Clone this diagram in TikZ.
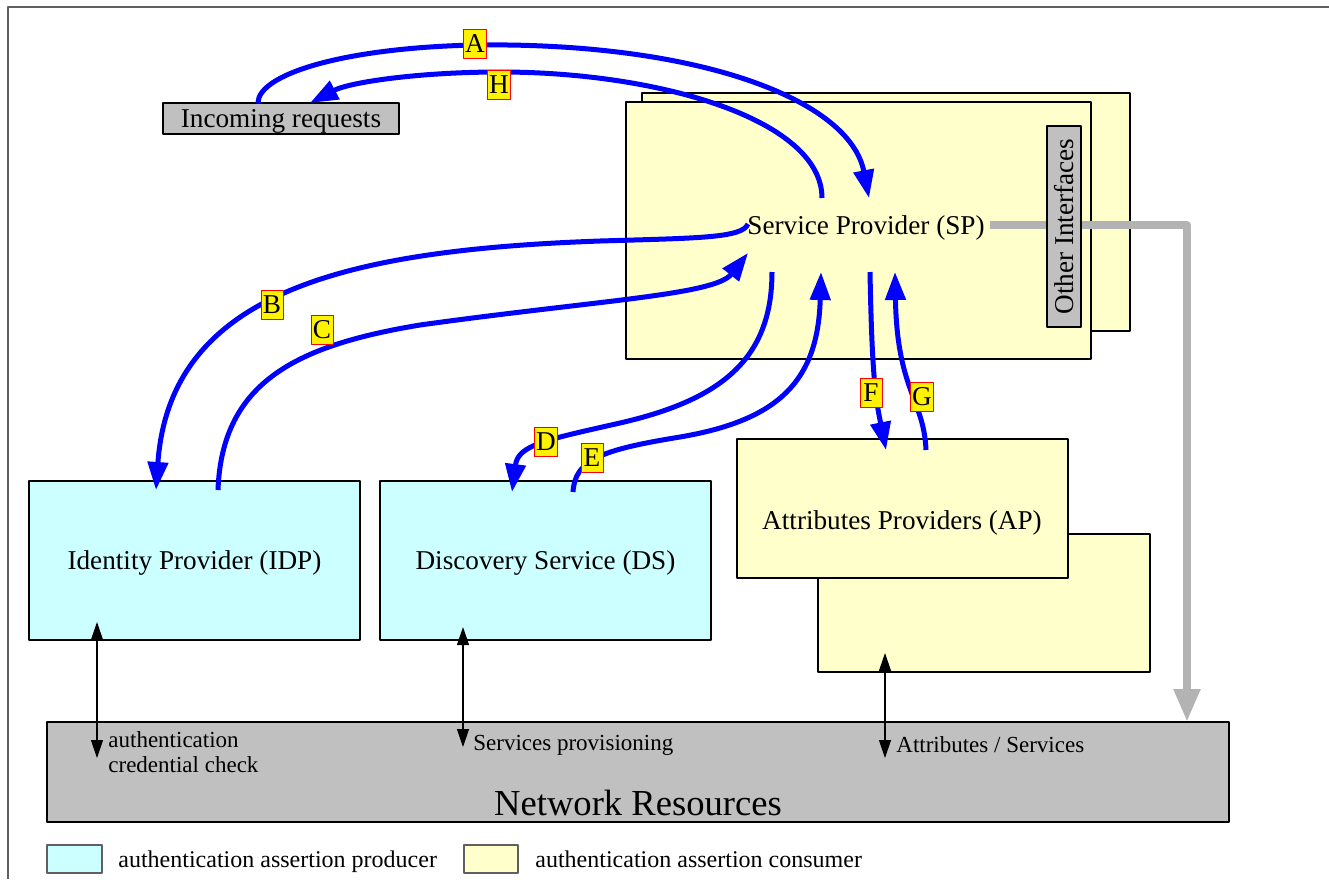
\documentclass[tikz,border=0pt]{standalone}
\usepackage{fontspec}
\setmainfont{Liberation Serif}
\usepackage{tikz}
\usetikzlibrary{arrows.meta}

\definecolor{consumer}{HTML}{FFFFCC}
\definecolor{producer}{HTML}{CCFFFF}
\definecolor{resgray}{HTML}{C0C0C0}
\definecolor{linkgray}{HTML}{B3B3B3}
\definecolor{flowblue}{HTML}{0000FF}
\definecolor{framegray}{HTML}{606060}

\newcommand{\boxfont}{\fontsize{13.6}{16}\selectfont}
\newcommand{\netfont}{\fontsize{18.3}{22}\selectfont}
\newcommand{\smallfont}{\fontsize{11.5}{12.5}\selectfont}
\newcommand{\legfont}{\fontsize{12}{14}\selectfont}

\tikzset{
  box/.style={draw=black, line width=0.6pt, inner sep=0pt, font=\boxfont, text depth=0pt},
  consumerbox/.style={box, fill=consumer},
  producerbox/.style={box, fill=producer},
  graybox/.style={box, fill=resgray},
  boxtext/.style={font=\boxfont, inner sep=0pt, text depth=0pt},
  legtext/.style={font=\legfont, anchor=west, inner sep=0pt, text depth=0pt},
  flow/.style={flowblue, line width=2.5pt, -{Triangle[length=14pt,width=10pt]}},
  tag/.style={draw=red, fill=yellow, line width=0.5pt, inner sep=0.6pt,
    minimum width=11pt, minimum height=14.5pt, font=\boxfont},
  link/.style={linkgray, line width=4pt, -{Triangle[length=16.5pt,width=12.5pt]}},
  io/.style={black, line width=0.6pt,
    {Triangle[length=9pt,width=6pt]}-{Triangle[length=9pt,width=6pt]}}
}

\begin{document}
\begin{tikzpicture}[x=0.5pt,y=-0.5pt,line join=round]
\useasboundingbox (0,0) rectangle (1329,879);
% frame
\draw[framegray, line width=0.8pt] (8,879) -- (8,7) -- (1329,7);

% boxes
\node[graybox, minimum width=118pt, minimum height=15.5pt] (inc) at (281,118.5) {Incoming requests};
\node[consumerbox, minimum width=244pt, minimum height=119pt] (spback) at (886,212) {};
\node[consumerbox, minimum width=232.5pt, minimum height=128.5pt] (sp) at (858.5,230.5) {};
\node[boxtext] (sptext) at (866,225) {Service Provider (SP)};
\node[producerbox, minimum width=165.5pt, minimum height=79.5pt] (idp) at (194.5,560.5) {Identity Provider (IDP)};
\node[producerbox, minimum width=165.5pt, minimum height=79.5pt] (ds) at (545.5,560.5) {Discovery Service (DS)};
\node[consumerbox, minimum width=166pt, minimum height=69pt] (apback) at (984,603) {};
\node[consumerbox, minimum width=165.5pt, minimum height=69.5pt] (ap) at (902.5,508.5) {};
\node[boxtext] (aptext) at (902,520) {Attributes Providers (AP)};
\node[graybox, minimum width=591pt, minimum height=50pt] (net) at (638,772) {};
\node[font=\netfont, inner sep=0pt] (nettext) at (638,803) {Network Resources};

% grey link to the network
\coordinate (netIn) at (1187,722);
\draw[link] ([xshift=2.5pt]sptext.east) -| (netIn);
\node[graybox, rotate=90, minimum width=100.5pt, minimum height=17pt] (other) at (1064,226.5) {Other Interfaces};

% access to the resources
\coordinate (ioA1) at (97,622);  \coordinate (ioA2) at (97,758);
\coordinate (ioB1) at (463,627); \coordinate (ioB2) at (463,747);
\coordinate (ioC1) at (885,653); \coordinate (ioC2) at (885,758);
\draw[io] (ioA1) -- (ioA2);
\draw[io] (ioB1) -- (ioB2);
\draw[io] (ioC1) -- (ioC2);
\node[font=\smallfont, anchor=west, align=left, inner sep=0pt] (lblA) at (108,752) {authentication\\credential check};
\node[font=\smallfont, anchor=west, inner sep=0pt] (lblB) at (473,745) {Services provisioning};
\node[font=\smallfont, anchor=west, inner sep=0pt] (lblC) at (896,745) {Attributes / Services};

% message flow
\coordinate (aS) at (258,103); \coordinate (aE) at (869,198);
\coordinate (hS) at (822,198); \coordinate (hE) at (310,103);
\coordinate (bS) at (748,224); \coordinate (bE) at (156,490);
\coordinate (cS) at (218,490); \coordinate (cE) at (748,253);
\coordinate (dS) at (772,272); \coordinate (dE) at (512,492);
\coordinate (eS) at (573,492); \coordinate (eE) at (821,272);
\coordinate (fS) at (870,272); \coordinate (fE) at (886,450);
\coordinate (gS) at (926,450); \coordinate (gE) at (895,272);
\draw[flow] (aS) .. controls (258,75) and (340,48) .. (475,45) .. controls (700,42) and (850,100) .. (aE);
\draw[flow] (hS) .. controls (822,120) and (660,72) .. (500,72) .. controls (420,72) and (350,82) .. (hE);
\draw[flow] (bS) .. controls (742,238) and (700,238) .. (600,241) .. controls (350,250) and (170,290) .. (bE);
\draw[flow] (cS) .. controls (222,380) and (300,345) .. (420,325) .. controls (600,300) and (715,295) .. (cE);
\draw[flow] (dS) .. controls (772,360) and (720,400) .. (620,423) .. controls (545,440) and (518,445) .. (dE);
\draw[flow] (eS) .. controls (575,460) and (600,450) .. (680,437) .. controls (780,420) and (818,380) .. (eE);
\draw[flow] (fS) .. controls (872,380) and (876,400) .. (fE);
\draw[flow] (gS) .. controls (924,400) and (897,390) .. (gE);

% step letters
\node[tag] (tA) at (475,44) {A};
\node[tag] (tH) at (499,85) {H};
\node[tag] (tB) at (272,305) {B};
\node[tag] (tC) at (322,330) {C};
\node[tag] (tD) at (546,442) {D};
\node[tag] (tE) at (592,458) {E};
\node[tag] (tF) at (871,393) {F};
\node[tag] (tG) at (922,397) {G};

% legend
\node[producerbox, draw=framegray, minimum width=27.5pt, minimum height=14pt] (legP) at (74.5,859) {};
\node[legtext] (legPtext) at (118,859) {authentication assertion producer};
\node[consumerbox, draw=framegray, minimum width=27pt, minimum height=14pt] (legC) at (491,859) {};
\node[legtext] (legCtext) at (535,859) {authentication assertion consumer};
\end{tikzpicture}
\end{document}
